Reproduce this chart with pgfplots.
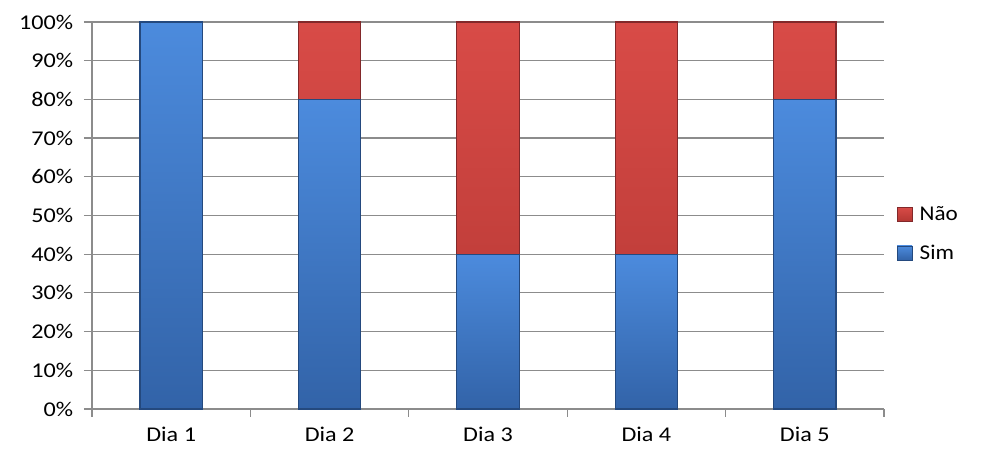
\documentclass[border=0pt]{standalone}
\usepackage{pgfplots}
\pgfplotsset{compat=1.18}
\usepackage{pgfplotstable}
\usepackage{fontspec}
\setmainfont{Carlito}
\definecolor{simtop}{HTML}{4C8BDD}
\definecolor{simbot}{HTML}{3263A8}
\definecolor{simedge}{HTML}{24497E}
\definecolor{naotop}{HTML}{D84B47}
\definecolor{naobot}{HTML}{B43733}
\definecolor{naoedge}{HTML}{82282A}
\definecolor{gridgray}{HTML}{8C8C8C}

\pgfplotstableread{
x sim nao
0 100 0
1 80 20
2 40 60
3 40 60
4 80 20
}\dados

% one bar per plot so that each bar gets its own shading;
% the red part is drawn to sim+nao and the blue part covers its lower end
\pgfplotsset{
  sim/.style={draw=simedge, line width=1.2pt, top color=simtop, bottom color=simbot},
  nao/.style={draw=naoedge, line width=1.2pt, top color=naotop, bottom color=naobot},
  bar/.style={restrict x to domain=#1:#1},
}

\begin{document}
\begin{tikzpicture}
\begin{axis}[
  scale only axis,
  width=792pt, height=387pt,
  ybar, bar shift=0pt,
  bar width=0.395,
  xmin=-0.5, xmax=4.5,
  ymin=0, ymax=100,
  ytick={0,10,...,100},
  yticklabel={\pgfmathprintnumber{\tick}\%},
  xtick={-0.5,0.5,...,4.5},
  xticklabels={},
  extra x ticks={0,1,2,3,4},
  extra x tick labels={Dia 1,Dia 2,Dia 3,Dia 4,Dia 5},
  extra x tick style={major tick length=0pt, grid=none},
  axis lines*=left,
  axis line style={gridgray, line width=1.2pt},
  tick style={gridgray, line width=1.2pt},
  major tick length=8pt,
  tick align=outside,
  ymajorgrids,
  grid style={gridgray, line width=1.2pt},
  tick label style={font=\fontsize{21}{25}\selectfont, xscale=1.15, text=black},
  yticklabel style={xshift=-6pt},
  xticklabel style={yshift=-15pt},
  /pgf/number format/assume math mode=true,
  clip=false,
  legend style={draw=none, at={(1.012,0.453)}, anchor=west,
    font=\fontsize{21}{25}\selectfont, row sep=19pt, column sep=5pt,
    legend cell align=left, fill=none, nodes={xscale=1.1}},
  legend image code/.code={\draw[#1, line width=0.8pt] (0pt,-7pt) rectangle (15pt,7pt);},
]
\addplot[nao, bar=1] table[x=x, y expr=\thisrow{sim}+\thisrow{nao}] {\dados};
\addlegendentry{Não}
\addplot[nao, bar=2, forget plot] table[x=x, y expr=\thisrow{sim}+\thisrow{nao}] {\dados};
\addplot[nao, bar=3, forget plot] table[x=x, y expr=\thisrow{sim}+\thisrow{nao}] {\dados};
\addplot[nao, bar=4, forget plot] table[x=x, y expr=\thisrow{sim}+\thisrow{nao}] {\dados};
\addplot[sim, bar=0] table[x=x, y=sim] {\dados};
\addlegendentry{Sim}
\addplot[sim, bar=1, forget plot] table[x=x, y=sim] {\dados};
\addplot[sim, bar=2, forget plot] table[x=x, y=sim] {\dados};
\addplot[sim, bar=3, forget plot] table[x=x, y=sim] {\dados};
\addplot[sim, bar=4, forget plot] table[x=x, y=sim] {\dados};
\coordinate (bl) at (rel axis cs:0,0);
\coordinate (tr) at (rel axis cs:1,1);
\end{axis}
\useasboundingbox ([shift={(-92pt,-43pt)}]bl) rectangle ([shift={(109pt,22pt)}]tr);
\end{tikzpicture}
\end{document}
